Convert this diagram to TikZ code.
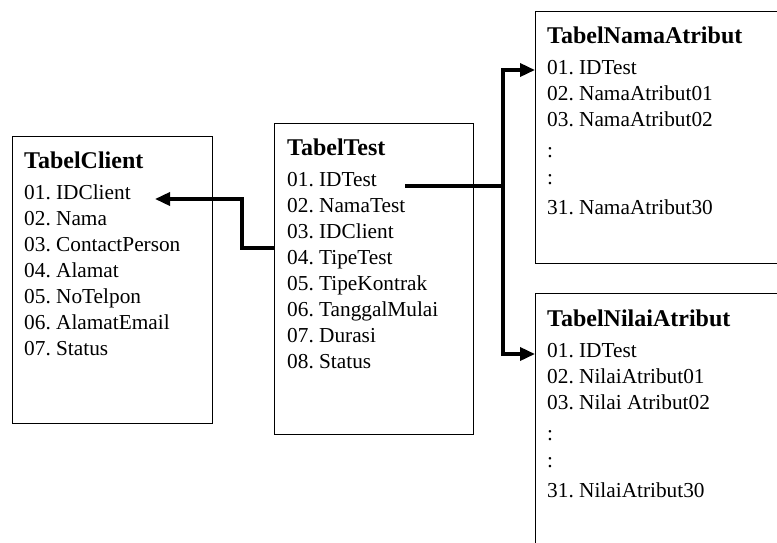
\documentclass[tikz,border=0pt]{standalone}
\usepackage{fontspec}
\setmainfont{Liberation Serif}
\usetikzlibrary{arrows.meta}
\frenchspacing
\begin{document}
\begin{tikzpicture}[x=1pt,y=-1pt,
  tbl/.style={draw, line width=1.4pt, inner sep=0pt, anchor=north west},
  txt/.style={anchor=base west, inner sep=0pt, font=\fontsize{21.3}{26}\selectfont},
  ttl/.style={anchor=base west, inner sep=0pt, font=\fontsize{24}{28}\selectfont\bfseries},
  conn/.style={line width=3.5pt, line join=miter, line cap=butt},
  tip/.style={-{Triangle[length=15pt,width=13pt]}}]
\useasboundingbox (0,0) rectangle (777,542);
\clip (0,0) rectangle (777,542);
% boxes
\node[tbl, minimum width=200pt, minimum height=287pt] (client) at (12,136) {};
\node[tbl, minimum width=199pt, minimum height=311pt] (test) at (274,123) {};
\node[tbl, minimum width=300pt, minimum height=252pt] (nama) at (535,11) {};
\node[tbl, minimum width=300pt, minimum height=300pt] (nilai) at (535,293) {};
% TabelClient
\node[ttl] (ct) at (24,168) {TabelClient};
\foreach \t [count=\i from 0] in {01. IDClient,02. Nama,03. ContactPerson,04. Alamat,05. NoTelpon,06. AlamatEmail,07. Status}
  \node[txt] (c\i) at (24,199+26*\i) {\t};
% TabelTest
\node[ttl] (tt) at (287,155) {TabelTest};
\foreach \t [count=\i from 0] in {01. IDTest,02. NamaTest,03. IDClient,04. TipeTest,05. TipeKontrak,06. TanggalMulai,07. Durasi,08. Status}
  \node[txt] (t\i) at (287,186+26*\i) {\t};
% TabelNamaAtribut
\node[ttl] (nt) at (547,43) {TabelNamaAtribut};
\node[txt] (n0) at (547,74) {01. IDTest};
\node[txt] (n1) at (547,100) {02. NamaAtribut01};
\node[txt] (n2) at (547,126) {03. NamaAtribut02};
\node[txt] (n3) at (547,157) {:};
\node[txt] (n4) at (547,184) {:};
\node[txt] (n5) at (547,214) {31. NamaAtribut30};
% TabelNilaiAtribut
\node[ttl] (lt) at (547,326) {TabelNilaiAtribut};
\node[txt] (l0) at (547,357) {01. IDTest};
\node[txt] (l1) at (547,383) {02. NilaiAtribut01};
\node[txt] (l2) at (547,409) {03. Nilai Atribut02};
\node[txt] (l3) at (547,440) {:};
\node[txt] (l4) at (547,467) {:};
\node[txt] (l5) at (547,497) {31. NilaiAtribut30};
% connectors
\coordinate (a0) at (274,248);
\coordinate (a1) at (242,248);
\coordinate (a2) at (242,199);
\coordinate (a3) at (155,199);
\draw[conn, tip] (a0) -- (a1) -- (a2) -- (a3);
\coordinate (b0) at (405,186);
\coordinate (b1) at (503,186);
\coordinate (b2) at (503,70);
\coordinate (b3) at (503,354);
\draw[conn] (b0) -- (b1);
\draw[conn, tip] (b1) -- (b2) -- (nama.west |- b2);
\draw[conn, tip] (b1) -- (b3) -- (nilai.west |- b3);
\end{tikzpicture}
\end{document}
